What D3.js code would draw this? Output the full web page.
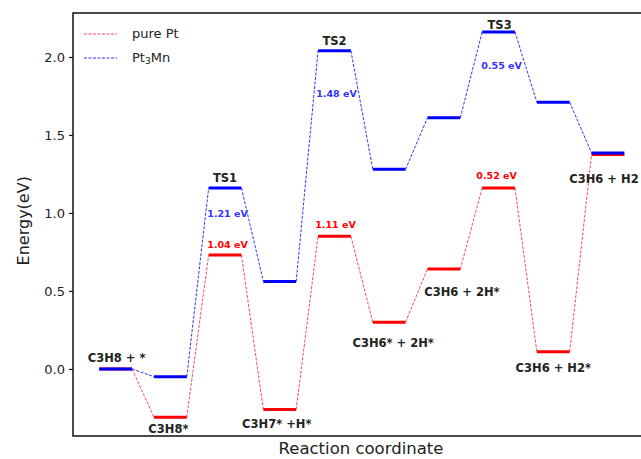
<!DOCTYPE html>
<html>
<head>
<meta charset="utf-8">
<script src="https://cdn.jsdelivr.net/npm/d3@7"></script>
<style>
  body { margin: 0; background: #fff; }
  svg text { font-family: "DejaVu Sans", sans-serif; }
</style>
</head>
<body>
<div id="chart"></div>
<script>
// reaction stages (x index) and energies
var stages = ["C3H8 + *", "C3H8*", "TS1", "C3H7* +H*", "TS2", "C3H6* + 2H*", "C3H6 + 2H*", "TS3", "C3H6 + H2*", "C3H6 + H2"];
var purePt = [0.00, -0.31, 0.73, -0.26, 0.85, 0.30, 0.64, 1.16, 0.11, 1.375];
var pt3mn  = [0.00, -0.05, 1.16, 0.56, 2.04, 1.28, 1.61, 2.16, 1.71, 1.385];
var yTicks = [0.0, 0.5, 1.0, 1.5, 2.0];
var barrierPt    = ["1.04 eV", "1.11 eV", "0.52 eV"];
var barrierPtMn  = ["1.21 eV", "1.48 eV", "0.55 eV"];

var width = 641, height = 459;
var margin = {top: 13, right: -8, bottom: 23, left: 73};

var svg = d3.select("#chart").append("svg")
    .attr("width", width)
    .attr("height", height);

var x = d3.scaleLinear().domain([-0.78, 9.75]).range([margin.left, width - margin.right]);
var y = d3.scaleLinear().domain([-0.43, 2.282]).range([height - margin.bottom, margin.top]);

var half = 0.3;

function drawSeries(vals, color, connColor) {
    // dashed connectors
    for (var i = 0; i < vals.length - 1; i++) {
        svg.append("line")
            .attr("x1", x(i + half)).attr("y1", y(vals[i]))
            .attr("x2", x(i + 1 - half)).attr("y2", y(vals[i + 1]))
            .attr("stroke", connColor)
            .attr("stroke-width", 1)
            .attr("stroke-dasharray", "3,1.5");
    }
    // levels
    vals.forEach(function(v, i) {
        svg.append("line")
            .attr("x1", x(i - half)).attr("y1", y(v))
            .attr("x2", x(i + half)).attr("y2", y(v))
            .attr("stroke", color)
            .attr("stroke-width", 3);
    });
}

drawSeries(purePt, "#ff0000", "#ff4466");
drawSeries(pt3mn, "#0000ff", "#3333ff");

// axes
var yAxis = d3.axisLeft(y).tickValues(yTicks).tickFormat(d3.format(".1f")).tickSize(4).tickPadding(4);
var gy = svg.append("g").attr("transform", "translate(" + margin.left + ",0)").call(yAxis);
gy.select(".domain").remove();
gy.selectAll("text").attr("font-size", 13).attr("fill", "#222");
gy.selectAll("line").attr("stroke", "#111").attr("stroke-width", 1.2);

svg.append("rect")
    .attr("x", margin.left).attr("y", margin.top)
    .attr("width", width - margin.right - margin.left)
    .attr("height", height - margin.bottom - margin.top)
    .attr("fill", "none")
    .attr("stroke", "#111")
    .attr("stroke-width", 1.5);

svg.append("text")
    .attr("transform", "translate(24," + y(0.95) + ") rotate(-90)")
    .attr("text-anchor", "middle")
    .attr("dominant-baseline", "middle")
    .attr("font-size", 16)
    .attr("fill", "#222")
    .text("Energy(eV)");

svg.append("text")
    .attr("x", 361).attr("y", 449)
    .attr("text-anchor", "middle")
    .attr("dominant-baseline", "middle")
    .attr("font-size", 16.5)
    .attr("fill", "#222")
    .text("Reaction coordinate");

// stage labels: [stage, series, dx, dy]
var labelPos = [
    [0, pt3mn, 1, -10],
    [1, purePt, -2, 12],
    [2, pt3mn, 0, -10],
    [3, purePt, -3, 15],
    [4, pt3mn, 0, -9],
    [5, purePt, 4, 21],
    [6, purePt, 18, 23],
    [7, pt3mn, 1, -7],
    [8, purePt, 0, 17],
    [9, purePt, -4, 25]
];
labelPos.forEach(function(p, i) {
    svg.append("text")
        .attr("x", x(p[0]) + p[2])
        .attr("y", y(p[1][p[0]]) + p[3])
        .attr("text-anchor", "middle")
        .attr("dominant-baseline", "middle")
        .attr("font-size", 11.5)
        .attr("font-weight", "bold")
        .attr("fill", "#222")
        .text(stages[i]);
});

// barrier labels at the transition states
var tsIdx = [2, 4, 7];
var ptOff = [[2.5, -10], [1, -11], [-2, -12]];
var mnOff = [[2.5, 26], [2, 44], [3, 34]];
tsIdx.forEach(function(s, k) {
    svg.append("text")
        .attr("x", x(s) + ptOff[k][0])
        .attr("y", y(purePt[s]) + ptOff[k][1])
        .attr("text-anchor", "middle")
        .attr("dominant-baseline", "middle")
        .attr("font-size", 9.5)
        .attr("font-weight", "bold")
        .attr("fill", "#ff0000")
        .text(barrierPt[k]);
    svg.append("text")
        .attr("x", x(s) + mnOff[k][0])
        .attr("y", y(pt3mn[s]) + mnOff[k][1])
        .attr("text-anchor", "middle")
        .attr("dominant-baseline", "middle")
        .attr("font-size", 9.5)
        .attr("font-weight", "bold")
        .attr("fill", "#3333ff")
        .text(barrierPtMn[k]);
});

// legend
var legend = svg.append("g").attr("transform", "translate(84,34)");
[["pure Pt", "#ff4466"], ["Pt3Mn", "#3333ff"]].forEach(function(d, i) {
    legend.append("line")
        .attr("x1", 0).attr("x2", 33)
        .attr("y1", i * 24).attr("y2", i * 24)
        .attr("stroke", d[1]).attr("stroke-width", 1)
        .attr("stroke-dasharray", "3,1.5");
    var t = legend.append("text")
        .attr("x", 48).attr("y", i * 24)
        .attr("dominant-baseline", "middle")
        .attr("font-size", 13)
        .attr("fill", "#222");
    if (i == 0) {
        t.text(d[0]);
    } else {
        t.append("tspan").text("Pt");
        t.append("tspan").attr("font-size", 9).attr("dy", 3).text("3");
        t.append("tspan").attr("dy", -3).text("Mn");
    }
});
</script>
</body>
</html>
